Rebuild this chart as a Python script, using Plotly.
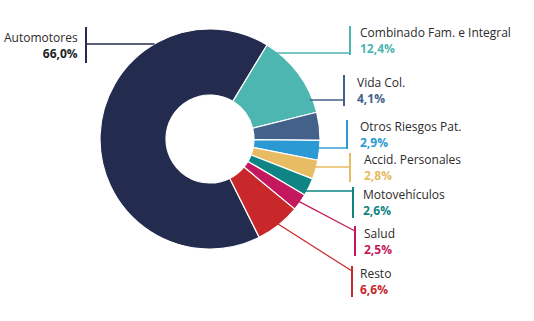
import math
import plotly.graph_objects as go

# ---- data ----
categories = ["Automotores", "Combinado Fam. e Integral", "Vida Col.", "Otros Riesgos Pat.",
              "Accid. Personales", "Motovehículos", "Salud", "Resto"]
shares = [66.0, 12.4, 4.1, 2.9, 2.8, 2.6, 2.5, 6.6]
colors = ["#232B4E", "#4DB6B0", "#44618A", "#2A99D4", "#E8BC62", "#0E8484", "#C4185E", "#C8282A"]
value_colors = ["#1E1E1E", "#4DB6B0", "#44618A", "#2A99D4", "#E8BC62", "#0E8484", "#C4185E", "#C8282A"]

# ---- layout constants (pixels in a 534x321 canvas) ----
W, H = 534, 321
CX, CY, R = 210, 139, 110
ROTATION = 153.4  # start angle of first slice (clockwise from 12 o'clock)

# label layout: (bar x, bar top, bar bottom, leader y or None for diagonal, text x, side)
label_layout = {
    "Automotores":               (86, 27, 63, 44, 80, "left"),
    "Combinado Fam. e Integral": (350, 26, 55, 53, 358, "right"),
    "Vida Col.":                 (344, 75, 106, 100, 355, "right"),
    "Otros Riesgos Pat.":        (347, 120, 149, 148, 358, "right"),
    "Accid. Personales":         (350, 153, 182, 167, 362, "right"),
    "Motovehículos":             (353, 187, 218, 191, 361, "right"),
    "Salud":                     (355, 226, 256, None, 362, "right"),
    "Resto":                     (352, 266, 297, None, 358, "right"),
}

def px(x):
    return x / W

def py(y):
    return 1 - y / H

fig = go.Figure(go.Pie(
    labels=categories, values=shares, sort=False, direction="clockwise",
    rotation=ROTATION, hole=0.4, textinfo="none", hoverinfo="label+percent",
    marker=dict(colors=colors, line=dict(color="white", width=1.2)),
    domain=dict(x=[px(CX - R), px(CX + R)], y=[py(CY + R), py(CY - R)]),
    showlegend=False,
))

total = sum(shares)
cum = 0.0
shapes, annotations = [], []
for cat, v, col, vcol in zip(categories, shares, colors, value_colors):
    start = ROTATION + cum / total * 360
    mid = start + v / total * 360 / 2
    cum += v
    bx, btop, bbot, ly, tx, side = label_layout[cat]
    # vertical bar
    shapes.append(dict(type="line", xref="paper", yref="paper",
                       x0=px(bx), x1=px(bx), y0=py(btop), y1=py(bbot),
                       line=dict(color=col, width=2)))
    if ly is not None:
        dy = ly - CY
        dx = math.sqrt(max(R * R - dy * dy, 0))
        sx = CX + dx if side == "right" else CX - dx
        if side == "right":
            sx -= 3
        shapes.append(dict(type="line", xref="paper", yref="paper",
                           x0=px(sx), x1=px(bx), y0=py(ly), y1=py(ly),
                           line=dict(color=col, width=1.4)))
    else:
        a = math.radians(mid)
        sx = CX + (R - 2) * math.sin(a)
        sy = CY - (R - 2) * math.cos(a)
        ey = btop + 5
        shapes.append(dict(type="line", xref="paper", yref="paper",
                           x0=px(sx), x1=px(bx), y0=py(sy), y1=py(ey),
                           line=dict(color=col, width=1.2)))
    vtxt = f"{v:.1f}".replace(".", ",") + "%"
    text = f"{cat}<br><b><span style='color:{vcol}'>{vtxt}</span></b>"
    annotations.append(dict(
        xref="paper", yref="paper", x=px(tx), y=py((btop + bbot) / 2),
        xanchor="right" if side == "left" else "left", yanchor="middle",
        align="right" if side == "left" else "left", showarrow=False,
        text=text,
        font=dict(family="Open Sans", size=12, color="#2B2B2B"),
    ))

fig.update_layout(
    width=W, height=H, margin=dict(l=0, r=0, t=0, b=0),
    paper_bgcolor="white", plot_bgcolor="white",
    shapes=shapes, annotations=annotations,
)
fig.write_html("out.html")
